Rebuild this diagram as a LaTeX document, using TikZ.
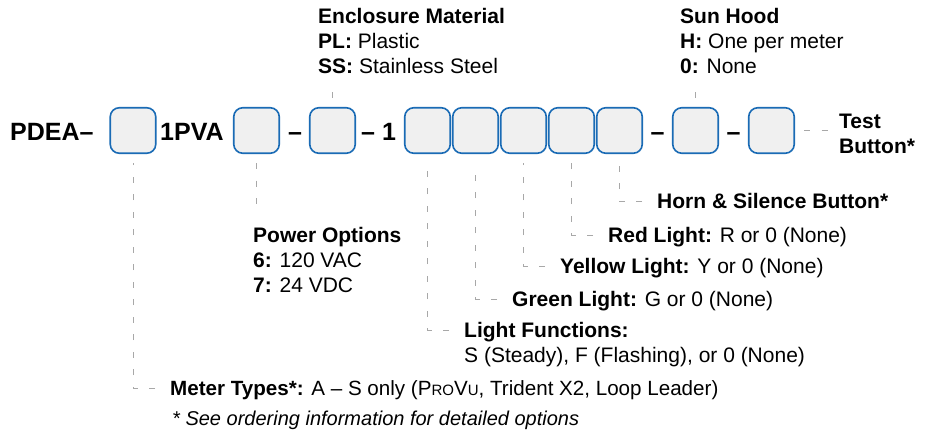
\documentclass[tikz,border=0pt]{standalone}
\usepackage{fontspec}
\setmainfont{Liberation Sans}
\definecolor{slotblue}{HTML}{1A6BB5}
\definecolor{slotfill}{HTML}{F0F0F0}
\definecolor{leadgray}{HTML}{A8A8A8}
\newcommand{\lblsize}{\fontsize{21}{25}\selectfont}
\newcommand{\codesize}{\fontsize{25}{30}\selectfont}
\newcommand{\smc}[1]{{\fontsize{15}{15}\selectfont #1}}
\begin{document}
\begin{tikzpicture}[x=1pt, y=-1pt,
    slot/.style={draw=slotblue, fill=slotfill, line width=1.6pt, rounded corners=9pt,
        minimum width=45.5pt, minimum height=45.5pt, inner sep=0pt},
    leader/.style={draw=leadgray, line width=0.9pt, dash pattern=on 6pt off 11.5pt},
    txt/.style={anchor=base west, inner sep=0pt, font=\lblsize},
    code/.style={anchor=base west, inner sep=0pt, font=\codesize\bfseries}]
    \fill[white] (0,0) rectangle (932,432);
    \useasboundingbox (0,0) rectangle (932,432);

    % the code slots
    \node[slot] (b1) at (133,130.5) {};
    \node[slot] (b2) at (256.5,130.5) {};
    \node[slot] (b3) at (332.5,130.5) {};
    \foreach \i/\x in {4/427.5, 5/475.5, 6/523.5, 7/571.5, 8/619.5}
        \node[slot] (b\i) at (\x,130.5) {};
    \node[slot] (b9) at (695.5,130.5) {};
    \node[slot] (b10) at (771.5,130.5) {};

    % fixed part of the code
    \node[code] (pdea) at (10,140.5) {PDEA–};
    \node[code] (pva) at (160,140.5) {1PVA};
    \node[code, anchor=base] (d1) at (295,140.5) {–};
    \node[code] (d2) at (361,140.5) {– 1};
    \node[code, anchor=base] (d3) at (657.5,140.5) {–};
    \node[code, anchor=base] (d4) at (733.5,140.5) {–};

    % labels above
    \node[txt] (encT) at (318,23) {\textbf{Enclosure Material}};
    \node[txt] (encPL) at (318,48) {\textbf{PL:} Plastic};
    \node[txt] (encSS) at (318,73) {\textbf{SS:} Stainless Steel};
    \node[txt] (sunT) at (680,23) {\textbf{Sun Hood}};
    \node[txt] (sunH) at (680,48) {\textbf{H:} One per meter};
    \node[txt] (sunN) at (680,73) {\textbf{0:} None};
    \node[txt] (testT) at (839,128) {\textbf{Test}};
    \node[txt] (testB) at (839,153) {\textbf{Button*}};

    % labels below
    \node[txt] (powT) at (253,242) {\textbf{Power Options}};
    \node[txt] (pow6) at (253,267) {\textbf{6:} 120 VAC};
    \node[txt] (pow7) at (253,292) {\textbf{7:} 24 VDC};
    \node[txt] (horn) at (657,208.5) {\textbf{Horn \& Silence Button*}};
    \node[txt] (red) at (608,242) {\textbf{Red Light:} R or 0 (None)};
    \node[txt] (yellow) at (560,273) {\textbf{Yellow Light:} Y or 0 (None)};
    \node[txt] (green) at (512,306) {\textbf{Green Light:} G or 0 (None)};
    \node[txt] (lfT) at (464,337) {\textbf{Light Functions:}};
    \node[txt] (lfS) at (464,362) {S (Steady), F (Flashing), or 0 (None)};
    \node[txt, font=\fontsize{20.6}{25}\selectfont] (meter) at (170,395)
        {\textbf{Meter Types*:} A – S only (P\smc{RO}V\smc{U}, Trident X2, Loop Leader)};
    \node[txt, font=\fontsize{20}{25}\selectfont\itshape] (note) at (172,425)
        {* See ordering information for detailed options};

    % leaders
    \draw[leader] ([yshift=9pt]b3.north) -- ([yshift=-10pt]b3.north |- encSS.base);
    \draw[leader] ([yshift=9pt]b9.north) -- ([yshift=-10pt]b9.north |- sunN.base);
    \draw[leader] ([xshift=9pt]b10.east) -- ([xshift=-8pt]b10.east -| testT.west);
    \draw[leader] ([yshift=-9pt]b2.south) -- ([yshift=27pt]b2.south |- powT.base);
    \draw[leader] ([xshift=-15pt,yshift=7pt]meter.base west) -| ([yshift=-9pt]b1.south);
    \draw[leader] ([xshift=-15pt,yshift=7pt]lfT.base west) -| ([yshift=-9pt]b4.south);
    \draw[leader] ([xshift=-15pt,yshift=7pt]green.base west) -| ([yshift=-9pt]b5.south);
    \draw[leader] ([xshift=-15pt,yshift=7pt]yellow.base west) -| ([yshift=-9pt]b6.south);
    \draw[leader] ([xshift=-15pt,yshift=7pt]red.base west) -| ([yshift=-9pt]b7.south);
    \draw[leader] ([xshift=-15pt,yshift=7pt]horn.base west) -| ([yshift=-9pt]b8.south);
\end{tikzpicture}
\end{document}
